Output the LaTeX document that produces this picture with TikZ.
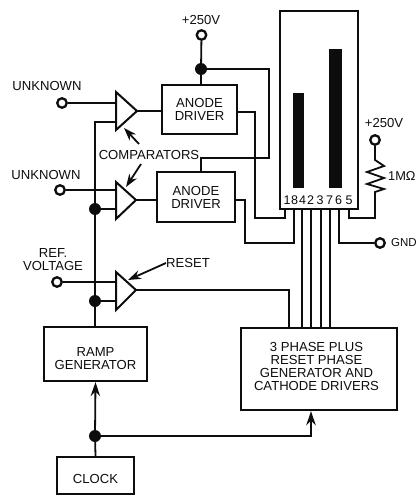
\documentclass[tikz,border=0pt]{standalone}
\usepackage{fontspec}
\setmainfont{Liberation Sans}
\usetikzlibrary{arrows.meta}
\definecolor{ink}{gray}{0.05}
\newcommand{\shiftedtext}[2]{\raisebox{#1}[0pt][0pt]{\begin{tabular}[b]{@{}c@{}}#2\end{tabular}}}
\tikzset{
  x=1pt,y=-1pt,
  wire/.style={draw=ink,line width=1.8pt,line join=miter},
  blockbox/.style={draw=ink,line width=2.4pt,fill=white,inner sep=0pt,align=center,font=\fontsize{13.1}{13}\selectfont,text=ink},
  lbl/.style={inner sep=0pt,align=center,font=\fontsize{13.1}{13}\selectfont,text=ink},
  term/.style={circle,draw=ink,line width=2.3pt,fill=white,minimum size=9.5pt,inner sep=0pt},
  jn/.style={circle,fill=ink,minimum size=12pt,inner sep=0pt},
  comp/.style={draw=ink,line width=2pt,fill=white,line join=miter},
  bar/.style={fill=ink,draw=none},
  pointer/.style={draw=ink,line width=1.8pt,-{Stealth[length=13pt,width=9pt]}},
  bigtip/.style={-{Stealth[length=14pt,width=9.5pt]}},
  pinnum/.style={inner sep=0pt,font=\fontsize{12.5}{12}\selectfont,text=ink}
}
\begin{document}
\begin{tikzpicture}
\useasboundingbox (0,0) rectangle (417,495);
% blocks
\node[blockbox,minimum width=75pt,minimum height=49pt] (ad1) at (199.5,109.5) {ANODE\\DRIVER};
\node[blockbox,minimum width=78pt,minimum height=50pt] (ad2) at (196,197) {ANODE\\DRIVER};
\node[blockbox,minimum width=103pt,minimum height=54pt] (ramp) at (95.5,354) {\shiftedtext{-15.4pt}{RAMP\\GENERATOR}};
\node[blockbox,minimum width=77pt,minimum height=37pt] (clock) at (95.5,475.5) {\shiftedtext{-8pt}{CLOCK}};
\node[blockbox,minimum width=156pt,minimum height=82pt] (phase) at (319,369) {\hspace*{-5pt}\shiftedtext{-21.6pt}{3 PHASE PLUS\\RESET PHASE\\GENERATOR AND\\CATHODE DRIVERS}};
\node[draw=ink,line width=2.8pt,fill=white,minimum width=78pt,minimum height=198pt,inner sep=0pt] (disp) at (319,110) {};
% coordinates
\coordinate (c1a) at (116,92); \coordinate (c1b) at (137,111); \coordinate (c1c) at (116,130);
\coordinate (c2a) at (116,182); \coordinate (c2b) at (136,200); \coordinate (c2c) at (116,219);
\coordinate (c3a) at (116,272); \coordinate (c3b) at (136,290); \coordinate (c3c) at (116,310);
\coordinate (o1) at (237,112); \coordinate (o2) at (235,200);
\coordinate (ar) at (311,436);
% terminals and junctions
\node[term] (tv) at (201.5,35) {};
\node[jn] (jv) at (201,69) {};
\node[term] (u1) at (62,103) {};
\node[term] (u2) at (60,190) {};
\node[term] (u3) at (57,282) {};
\node[jn] (j2) at (95,209) {};
\node[jn] (j3) at (95,301) {};
\node[jn] (jc) at (95,436) {};
\node[term] (tr) at (375,140) {};
\node[term] (gnd) at (380,243) {};
% wires
\draw[wire] (tv) -- (jv) -- (jv |- ad1.north);
\draw[wire] (jv) -- (269,69) -- (269,158) -- (201,158) -- (201,172);
\draw[wire] (u1) -- (116,103);
\draw[wire] (u2) -- (116,190);
\draw[wire] (u3) -- (116,282);
\draw[wire] (116,122) -- (95,122) -- (j2 |- ramp.north);
\draw[wire] (j2) -- (116,209);
\draw[wire] (j3) -- (116,301);
\draw[wire] (c1b) -- (c1b -| ad1.west);
\draw[wire] (c2b) -- (c2b -| ad2.west);
\draw[wire] (c3b) -- (289,290) -- (289,328);
\draw[wire] (o1) -- (255,112) -- (255,218) -- (285,218) -- (285,209);
\draw[wire] (o2) -- (245,200) -- (245,243) -- (294,243) -- (294,209);
\foreach \px in {302,311,321,330} \draw[wire] (\px,209) -- (\px,328);
\draw[wire] (339,209) -- (339,243) -- (gnd);
\draw[wire] (349,209) -- (349,218) -- (375,218) -- (375,192) -- (384,189) -- (367,184) -- (384,178) -- (367,172) -- (384,166) -- (375,160) -- (tr);
\draw[wire,bigtip] (jc) -- (ramp.south);
\draw[wire] (clock.north) -- (jc);
\draw[wire,bigtip] (jc) -- (ar) -- (ar |- phase.south);
% comparators
\draw[comp] (c1a) -- (c1b) -- (c1c) -- cycle;
\draw[comp] (c2a) -- (c2b) -- (c2c) -- cycle;
\draw[comp] (c3a) -- (c3b) -- (c3c) -- cycle;
% display bars
\fill[bar] (293,93) rectangle (304,188);
\fill[bar] (329,49) rectangle (342,188);
% pin numbers
\node[pinnum] (n1) at (287,200) {1};
\node[pinnum] (n8) at (294.5,200) {8};
\node[pinnum] (n4) at (302.5,200) {4};
\node[pinnum] (n2) at (310.5,200) {2};
\node[pinnum] (n3) at (320,200) {3};
\node[pinnum] (n7) at (329.5,200) {7};
\node[pinnum] (n6) at (338.5,200) {6};
\node[pinnum] (n5) at (349,200) {5};
% labels
\node[lbl] (lv) at (201,20) {+250V};
\node[lbl] (lv2) at (384,123) {+250V};
\node[lbl] (lu1) at (47,86) {UNKNOWN};
\node[lbl] (lu2) at (46,175) {UNKNOWN};
\node[lbl] (lc) at (149,155) {COMPARATORS};
\node[lbl] (lref) at (53,260) {REF.\\VOLTAGE};
\node[lbl,anchor=west] (lres) at (166,263) {RESET};
\node[lbl,anchor=west,font=\fontsize{12.8}{13}\selectfont] (lm) at (388,176) {1MΩ};
\node[lbl,anchor=west,font=\fontsize{11.5}{13}\selectfont] (lg) at (391,243) {GND};
% pointers
\draw[pointer] (139,144) -- (124,128);
\draw[pointer] (141,164) -- (126,187);
\draw[pointer] (lres.west) -- (128,280);
\end{tikzpicture}
\end{document}
